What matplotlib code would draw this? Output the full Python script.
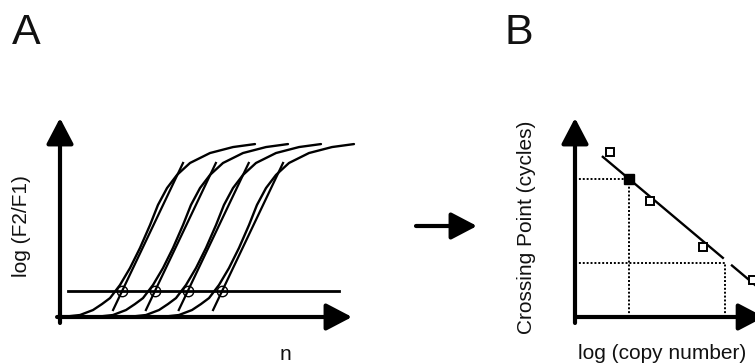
import numpy as np
import matplotlib
matplotlib.use("Agg")
import matplotlib.pyplot as plt
from matplotlib.patches import FancyArrowPatch, ArrowStyle

plt.rcParams['font.family'] = ['Liberation Sans', 'DejaVu Sans']

# ---------------- data: panel A (amplification curves) ----------------
# shape of one amplification curve (cycle, normalised log fluorescence)
curve_cycles = [0.27, 2.74, 4.52, 5.75, 6.85, 8.22, 9.59, 10.96, 12.33,
                13.42, 14.66, 16.03, 17.81, 20.55, 23.70, 26.71]
curve_signal = [0.0, 0.010, 0.035, 0.065, 0.095, 0.161, 0.246, 0.347, 0.462,
                0.563, 0.648, 0.714, 0.774, 0.824, 0.854, 0.869]
curve_shifts = [0.0, 4.52, 9.04, 13.56]          # cycle offset of each curve
crossing_points = [8.5, 13.0, 17.5, 22.2]         # crossing cycle of each curve
threshold = 0.13
threshold_range = [1.1, 38.2]
tangent_slope = 0.0771                            # signal per cycle
tangent_signal = [0.035, 0.774]                   # extent of tangent lines

# ---------------- data: panel B (standard curve) ----------------
std_log_copies = [0.73, 1.56, 2.67, 3.71]
std_crossing = [33.2, 23.3, 14.1, 7.4]
fit_slope = -8.12
fit_intercept = 36.9
fit_segments = [(0.58, 3.08), (3.27, 4.3)]
unknown_log_copies = 1.125
unknown_crossing = 27.7
readout_log_copies = 3.125
readout_crossing = 10.9

W, H = 755, 364
fig = plt.figure(figsize=(W / 100, H / 100), dpi=100)


def fx(px):
    return px / W


def fy(py):
    return 1 - py / H


arrow_style = ArrowStyle('-|>', head_length=1.05, head_width=0.55)
arrow_kw = dict(arrowstyle=arrow_style, lw=3, color='black',
                mutation_scale=15, shrinkA=0, shrinkB=0)

# ---------------- Panel A ----------------
axA = fig.add_axes([fx(60), fy(317), 292 / W, 199 / H])
axA.set_xlim(0, 40)
axA.set_ylim(0, 1)
axA.axis('off')

axA.annotate('', xy=(40, 0), xytext=(-0.4, 0), arrowprops=arrow_kw,
             annotation_clip=False)
axA.annotate('', xy=(0, 1.0), xytext=(0, -0.03), arrowprops=arrow_kw,
             annotation_clip=False)

cc = np.array(curve_cycles)
cs = np.array(curve_signal)
for sh, cp in zip(curve_shifts, crossing_points):
    axA.plot(cc + sh, cs, color='black', lw=1.7, clip_on=False,
             solid_capstyle='round', solid_joinstyle='round')
    ty = np.array(tangent_signal)
    tx = cp + (ty - threshold) / tangent_slope
    axA.plot(tx, ty, color='black', lw=1.6, clip_on=False)
    axA.plot([cp], [threshold], marker='o', ms=7.5, mfc='none', mec='black',
             mew=1.0, clip_on=False)

axA.plot(threshold_range, [threshold, threshold], color='black', lw=2.0)

# ---------------- Panel B ----------------
axB = fig.add_axes([fx(575), fy(317), 192 / W, 199 / H])
axB.set_xlim(0, 4)
axB.set_ylim(0, 40)
axB.axis('off')

axB.annotate('', xy=(3.94, 0), xytext=(0, 0), arrowprops=arrow_kw,
             annotation_clip=False)
axB.annotate('', xy=(0, 40), xytext=(0, -1.2), arrowprops=arrow_kw,
             annotation_clip=False)

for x0, x1 in fit_segments:
    xs = np.array([x0, x1])
    axB.plot(xs, fit_intercept + fit_slope * xs, color='black', lw=1.7,
             clip_on=False)

dot = dict(color='black', lw=1.4, ls=(0, (1, 1)))
axB.plot([0, unknown_log_copies], [unknown_crossing, unknown_crossing], **dot)
axB.plot([unknown_log_copies, unknown_log_copies], [0, unknown_crossing], **dot)
axB.plot([0, readout_log_copies], [readout_crossing, readout_crossing], **dot)
axB.plot([readout_log_copies, readout_log_copies], [0, readout_crossing], **dot)

axB.plot(std_log_copies, std_crossing, ls='none', marker='s', ms=6,
         mfc='white', mec='black', mew=1.4, clip_on=False)
axB.plot([unknown_log_copies], [unknown_crossing], ls='none', marker='s',
         ms=7, mfc='black', mec='black', clip_on=False)

# ---------------- arrow between panels ----------------
fig.add_artist(FancyArrowPatch((fx(416), fy(226)), (fx(477), fy(226)),
                               transform=fig.transFigure, **arrow_kw))

# ---------------- text ----------------
tc = '#111111'
fig.text(fx(12), fy(44), 'A', fontsize=31, ha='left', va='baseline', color=tc)
fig.text(fx(504), fy(44), 'B', fontsize=31, ha='left', va='baseline', color=tc)
fig.text(fx(21.5), fy(226), 'log (F2/F1)', fontsize=15, rotation=90,
         ha='center', va='center', color=tc)
fig.text(fx(285), fy(360), 'n', fontsize=15, ha='center', va='baseline',
         color=tc)
fig.text(fx(527), fy(227), 'Crossing Point (cycles)', fontsize=15,
         rotation=90, ha='center', va='center', color=tc)
fig.text(fx(662), fy(359), 'log (copy number)', fontsize=15, ha='center',
         va='baseline', color=tc)

fig.savefig('out.png', dpi=100)
